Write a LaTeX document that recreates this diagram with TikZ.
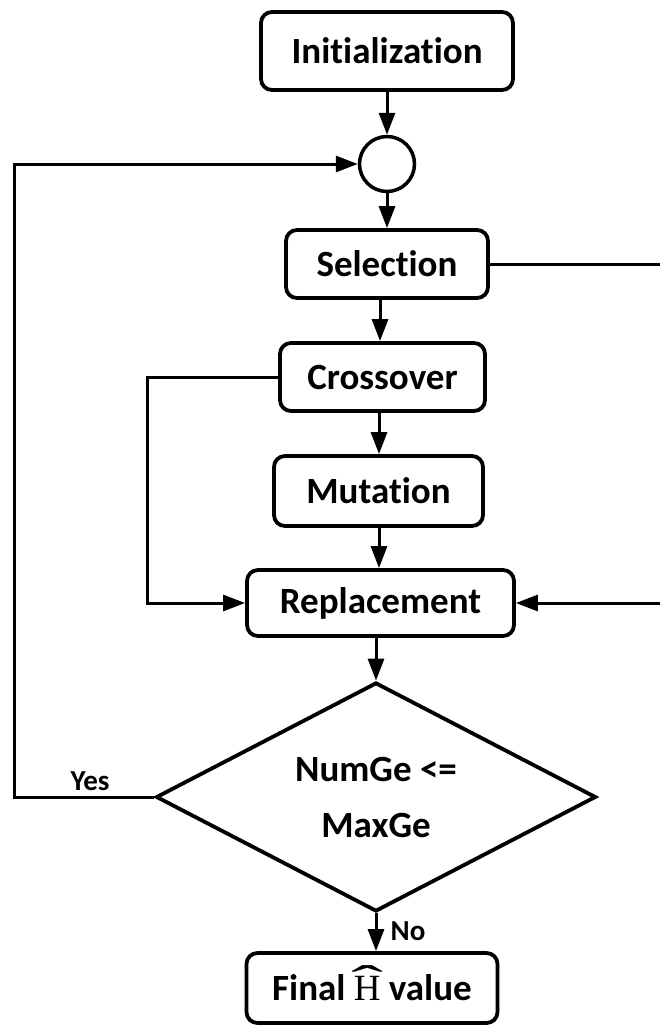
\documentclass[tikz,border=0pt]{standalone}
\usepackage{fontspec}
\usepackage{graphicx}
\setmainfont{Carlito}[Ligatures=NoCommon]
\newfontfamily\hfont{Liberation Serif}
\usetikzlibrary{arrows.meta,shapes.geometric}

% serif H under a wide hat
\newcommand\hwide{{\mdseries\hfont\ooalign{H\cr
  \hidewidth\raisebox{0.11em}{\scalebox{2.6}[1.2]{\char"02C6}}\hidewidth\cr}}}

\begin{document}
\begin{tikzpicture}[x=1pt,y=-1pt,
  every node/.style={font=\fontsize{37}{56}\selectfont\bfseries},
  stepbox/.style={draw,line width=3.8pt,rounded corners=11pt,inner sep=0pt},
  junction/.style={draw,circle,line width=3.5pt,minimum size=55pt,inner sep=0pt},
  decision/.style={draw,diamond,line width=3.8pt,inner sep=0pt,shape aspect=1.92,
                   minimum width=440pt,minimum height=229pt,align=center},
  link/.style={line width=3pt},
  arr/.style={link,-{Triangle[length=22pt,width=16pt]}},
  small/.style={font=\fontsize{29}{32}\selectfont\bfseries}]

\clip (0,0) rectangle (660,1025);

% process boxes
\node[stepbox,minimum width=252pt,minimum height=78pt] (init) at (387,51) {Initialization};
\node[junction] (circ) at (387,164) {};
\node[stepbox,minimum width=202pt,minimum height=68pt] (sel) at (387,264) {Selection};
\node[stepbox,minimum width=205pt,minimum height=68pt] (cross) at (382.5,377) {Crossover};
\node[stepbox,minimum width=209pt,minimum height=70pt] (mut) at (378.5,491) {Mutation};
\node[stepbox,minimum width=267pt,minimum height=66pt] (rep) at (380.5,603) {Replacement};
\node[decision] (dia) at (376,797) {NumGe \textless=\\MaxGe};
\node[stepbox,minimum width=251pt,minimum height=70pt] (final) at (372,988)
  {Final \hwide{} value};

% routing columns for the side connectors
\coordinate (lx) at (14,0);
\coordinate (cx) at (147,0);
\coordinate (rx) at (664,0);

% main flow
\draw[arr] (init.south) -- (circ.north);
\draw[arr] (circ.south) -- (circ |- sel.north);
\draw[arr] (380,0 |- sel.south) -- (380,0 |- cross.north);
\draw[arr] (379,0 |- cross.south) -- (379,0 |- mut.north);
\draw[arr] (379,0 |- mut.south) -- (379,0 |- rep.north);
\draw[arr] (376,0 |- rep.south) -- (dia.north);
\draw[arr] (dia.south) -- (dia.south |- final.north);

% side paths
\draw[arr] (dia.west) -- (dia.west -| lx) |- (circ.west);
\draw[arr] (cross.west) -- (cross.west -| cx) |- (rep.west);
\draw[arr] (sel.east) -- (sel.east -| rx) |- (rep.east);

% branch labels
\node[small] (yes) at (90,781) {Yes};
\node[small] (no) at (408,931) {No};
\end{tikzpicture}
\end{document}
